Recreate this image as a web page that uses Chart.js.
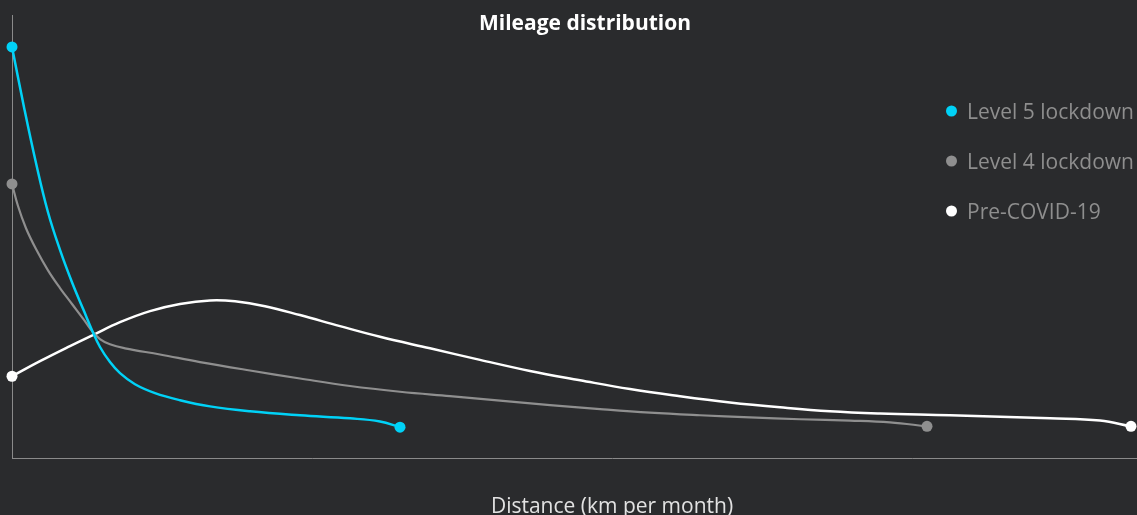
<!DOCTYPE html>
<html>
<head>
<meta charset="utf-8">
<title>Mileage distribution</title>
<script src="https://cdn.jsdelivr.net/npm/chart.js@4"></script>
<style>
  html, body { margin: 0; padding: 0; background: #2a2b2d; overflow: hidden; }
  #wrap { position: relative; width: 1224px; height: 515px; }
</style>
</head>
<body>
<div id="wrap"><canvas id="chart"></canvas></div>
<script>
// Distance travelled (km per month) and share of vehicles (%) for each period
const level5Km     = [0, 12, 24, 36, 48, 60, 72, 80, 88, 98, 108, 123, 143, 168, 198, 238, 288, 338, 368, 388];
const level5Share  = [92.8, 79.2, 66.6, 55.5, 47.0, 39.7, 33.2, 28.9, 25.1, 21.7, 19.2, 16.7, 14.7, 13.1, 11.7, 10.6, 9.7, 9.0, 8.3, 7.0];

const level4Km     = [0, 6, 14, 24, 36, 48, 60, 72, 80, 88, 98, 113, 148, 188, 238, 288, 338, 388, 438, 488, 538, 588, 638, 688, 738, 788, 838, 878, 915];
const level4Share  = [61.9, 56.9, 51.9, 47.2, 42.4, 38.4, 34.8, 31.2, 28.7, 26.9, 25.7, 24.8, 23.4, 21.7, 19.8, 18.0, 16.3, 15.0, 14.0, 13.0, 12.0, 11.1, 10.3, 9.7, 9.2, 8.8, 8.5, 8.1, 7.2];

const preCovidKm    = [0, 28, 58, 81, 108, 138, 168, 198, 223, 253, 288, 328, 368, 418, 468, 518, 568, 618, 668, 718, 768, 818, 868, 938, 1038, 1088, 1119];
const preCovidShare = [18.5, 21.9, 25.3, 27.8, 30.7, 33.2, 34.8, 35.6, 35.4, 34.3, 32.3, 29.8, 27.4, 24.8, 22.2, 19.7, 17.6, 15.6, 14.0, 12.6, 11.5, 10.6, 10.1, 9.7, 9.0, 8.5, 7.2];

const seriesNames  = ['Level 5 lockdown', 'Level 4 lockdown', 'Pre-COVID-19'];
const seriesColors = ['#00d2f7', '#8f8f8f', '#ffffff'];

const chartTitle = 'Mileage distribution';
const xAxisTitle = 'Distance (km per month)';

const FONT = "'Open Sans', 'Noto Sans', sans-serif";

function toPoints(xs, ys) {
  return xs.map((x, i) => ({ x: x, y: ys[i] }));
}

// only the first and last sample of each curve get a marker
function endMarker(ctx) {
  const n = ctx.dataset.data.length;
  return (ctx.dataIndex === 0 || ctx.dataIndex === n - 1) ? 5.5 : 0;
}

function makeDataset(label, color, xs, ys, width) {
  return {
    label: label,
    data: toPoints(xs, ys),
    borderColor: color,
    backgroundColor: color,
    pointBackgroundColor: color,
    pointBorderColor: color,
    pointBorderWidth: 0,
    pointRadius: endMarker,
    pointHoverRadius: endMarker,
    borderWidth: width,
    tension: 0.4,
    fill: false,
    clip: false
  };
}

// canvas background
const backgroundPlugin = {
  id: 'pageBackground',
  beforeDraw(chart) {
    const c = chart.ctx;
    c.save();
    c.fillStyle = '#2a2b2d';
    c.fillRect(0, 0, chart.width, chart.height);
    c.restore();
  }
};

// heading and the series key drawn over the plot
const overlayPlugin = {
  id: 'overlayText',
  afterDraw(chart) {
    const c = chart.ctx;
    c.save();
    c.fillStyle = '#ffffff';
    c.font = "bold 21px " + FONT;
    c.textAlign = 'center';
    c.textBaseline = 'alphabetic';
    c.fillText(chartTitle, 585, 30);

    c.font = "21px " + FONT;
    c.textAlign = 'left';
    const rowY = [111, 161, 211];
    seriesNames.forEach((name, i) => {
      c.fillStyle = seriesColors[i];
      c.beginPath();
      c.arc(951.5, rowY[i], 5.5, 0, Math.PI * 2);
      c.fill();
      c.fillStyle = '#8e8e8e';
      c.fillText(name, 967, rowY[i] + 7.5);
    });
    c.restore();
  }
};

new Chart(document.getElementById('chart'), {
  type: 'line',
  data: {
    datasets: [
      makeDataset(seriesNames[0], seriesColors[0], level5Km, level5Share, 2.5),
      makeDataset(seriesNames[1], seriesColors[1], level4Km, level4Share, 2.2),
      makeDataset(seriesNames[2], seriesColors[2], preCovidKm, preCovidShare, 2.5)
    ]
  },
  options: {
    responsive: true,
    maintainAspectRatio: false,
    animation: false,
    layout: { padding: { left: 12, right: 12, top: 15, bottom: 0 } },
    plugins: {
      legend: { display: false },
      title: { display: false },
      tooltip: { enabled: false }
    },
    scales: {
      x: {
        type: 'linear',
        min: 0,
        max: 1200,
        grid: { display: false, drawTicks: false },
        ticks: { display: false },
        border: { display: true, color: '#8a8a8a', width: 1 },
        title: {
          display: true,
          text: xAxisTitle,
          color: '#e2e2e2',
          font: { family: FONT, size: 21, lineHeight: 0.75 },
          padding: { top: 41, bottom: 0 }
        }
      },
      y: {
        min: 0,
        max: 100,
        grid: { display: false, drawTicks: false },
        ticks: { display: false },
        border: { display: true, color: '#8a8a8a', width: 1 }
      }
    }
  },
  plugins: [backgroundPlugin, overlayPlugin]
});
</script>
</body>
</html>
